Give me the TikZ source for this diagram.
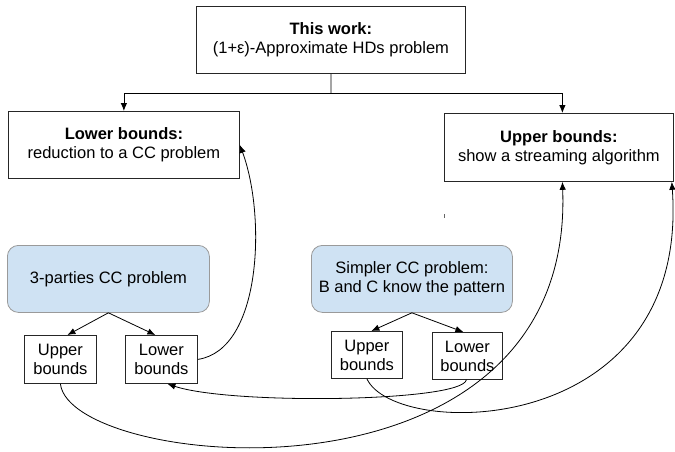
\documentclass[tikz,border=0pt]{standalone}
\usepackage{fontspec}
\setmainfont{Liberation Sans}
\usetikzlibrary{arrows.meta}
\definecolor{bluefill}{HTML}{CFE2F3}
\definecolor{blueedge}{HTML}{9A9A9A}
\begin{document}
\begin{tikzpicture}[x=1pt,y=-1pt,
  every node/.style={font=\fontsize{16.5}{19}\selectfont, align=center, inner sep=0pt, anchor=north west},
  whitebox/.style={draw=black!85, line width=0.8pt, fill=white},
  bluebox/.style={draw=blueedge, line width=0.8pt, fill=bluefill, rounded corners=11pt},
  arr/.style={-{Latex[length=8pt,width=6.5pt]}, line width=0.8pt, black},
  line/.style={line width=0.8pt, black}]
\useasboundingbox (0,0) rectangle (675,451);
\node[whitebox, minimum width=269pt, minimum height=67pt] (top) at (196,6) {{\bfseries This work:}\\(1+ε)-Approximate HDs problem};
\node[whitebox, minimum width=231pt, minimum height=67pt] (LB) at (8,111) {{\bfseries Lower bounds:}\\reduction to a CC problem};
\node[whitebox, minimum width=229pt, minimum height=68pt] (UB) at (444,113) {{\bfseries Upper bounds:}\\show a streaming algorithm};
\node[bluebox, minimum width=202pt, minimum height=67pt] (B1) at (7,245) {3-parties CC problem};
\node[bluebox, minimum width=201pt, minimum height=67pt] (B2) at (311,245) {Simpler CC problem:\\B and C know the pattern};
\node[whitebox, minimum width=72pt, minimum height=48pt] (U1) at (24,335) {Upper\\bounds};
\node[whitebox, minimum width=72pt, minimum height=48pt] (L1) at (125,335) {Lower\\bounds};
\node[whitebox, minimum width=71pt, minimum height=47pt] (U2) at (331,331) {Upper\\bounds};
\node[whitebox, minimum width=70pt, minimum height=47pt] (L2) at (432,332) {Lower\\bounds};
\coordinate (j) at (331,93);
\draw[line] (top.south) -- (j);
\draw[arr] (j) -| (LB.north);
\draw[arr] (j) -| ([xshift=3.5pt]UB.north);
\draw[arr] (B1.south) -- ([xshift=7pt]U1.north);
\draw[arr] (B1.south) -- ([xshift=-6pt]L1.north);
\draw[arr] (B2.south) -- ([xshift=4.5pt]U2.north);
\draw[arr] (B2.south) -- ([xshift=-4pt]L2.north);
\draw[arr] (L1.east) .. controls (262,350) and (266,215) .. (LB.east);
\draw[arr] ([xshift=-1pt]L2.south) .. controls (462,402) and (230,405) .. ([xshift=6pt]L1.south);
\draw[arr] (U2.south) .. controls (395,440) and (690,440) .. ([xshift=-2pt]UB.south east);
\draw[arr] (U1.south) .. controls (70,470) and (575,520) .. ([xshift=3.5pt]UB.south);
\coordinate (tick) at (444,214);
\draw[line width=0.8pt, black!60] (tick) -- ++(0,4);
\end{tikzpicture}
\end{document}
